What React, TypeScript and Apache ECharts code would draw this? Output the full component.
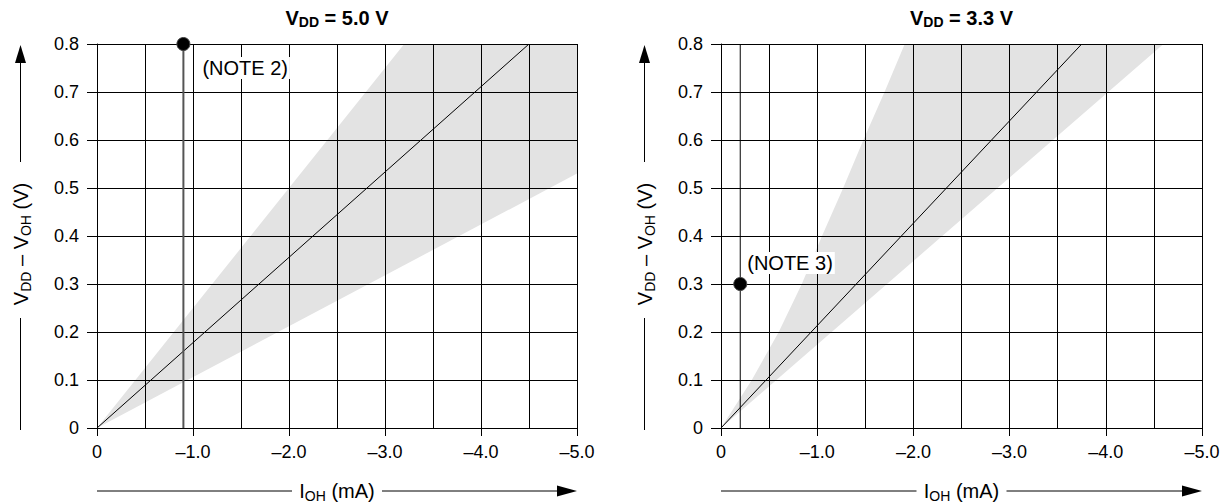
import React, { useEffect, useRef } from "react";
import * as echarts from "echarts";

const FONT = '"Liberation Sans", Arial, Helvetica, sans-serif';

// ---- data ----
const xMin = -5;
const xMax = 0;
const yMin = 0;
const yMax = 0.8;
const titles = ["5.0", "3.3"];
const noteLabels = ["(NOTE 2)", "(NOTE 3)"];

// typical V(DD)-V(OH) vs I(OH) lines
const typicalLeft = [
  [0, 0],
  [-4.5, 0.8],
];
const typicalRight = [
  [0, 0],
  [-3.75, 0.8],
];

// shaded spread region (polygon outline)
const bandLeft = [
  [0, 0],
  [-3.2, 0.8],
  [-5, 0.8],
  [-5, 0.53],
];
const bandRight = [
  [0, 0],
  [-0.32, 0.1],
  [-0.6, 0.2],
  [-0.84, 0.3],
  [-1.05, 0.4],
  [-1.27, 0.5],
  [-1.48, 0.6],
  [-1.7, 0.7],
  [-1.91, 0.8],
  [-4.6, 0.8],
];

// note points and their vertical marker lines
const noteLeft = [-0.9, 0.8];
const noteRight = [-0.2, 0.3];
const noteLineLeft = [
  [-0.9, 0],
  [-0.9, 0.8],
];
const noteLineRight = [
  [-0.2, 0],
  [-0.2, 0.8],
];

// ---- layout ----
const GRIDS = [
  { left: 97, top: 44, width: 480, height: 384 },
  { left: 721, top: 44, width: 481, height: 384 },
];

const fmtX = (v: number) => (v === 0 ? "0" : "\u2013" + Math.abs(v).toFixed(1));
const fmtY = (v: number) => (v === 0 ? "0" : v.toFixed(1));

function makeXAxis(gi: number) {
  return {
    type: "value",
    gridIndex: gi,
    min: xMin,
    max: xMax,
    interval: 1,
    inverse: true,
    position: "bottom",
    z: 3,
    axisLine: { show: true, onZero: false, lineStyle: { color: "#000", width: 1 } },
    axisTick: { show: true, length: 8, lineStyle: { color: "#000", width: 1 } },
    axisLabel: {
      formatter: fmtX,
      color: "#000",
      fontSize: 18,
      fontFamily: FONT,
      margin: 15,
    },
    splitLine: { show: true, showMinLine: true, showMaxLine: true, lineStyle: { color: "#000", width: 1 } },
    minorTick: { show: false, splitNumber: 2 },
    minorSplitLine: { show: true, lineStyle: { color: "#000", width: 1 } },
  };
}

function makeYAxis(gi: number) {
  return {
    type: "value",
    gridIndex: gi,
    min: yMin,
    max: yMax,
    interval: 0.1,
    z: 3,
    axisLine: { show: true, onZero: false, lineStyle: { color: "#000", width: 1 } },
    axisTick: { show: true, length: 10, lineStyle: { color: "#000", width: 1 } },
    axisLabel: {
      formatter: fmtY,
      color: "#000",
      fontSize: 18,
      fontFamily: FONT,
      margin: 18,
    },
    splitLine: { show: true, showMinLine: true, showMaxLine: true, lineStyle: { color: "#000", width: 1 } },
  };
}

function bandSeries(gi: number, band: number[][]) {
  return {
    type: "custom",
    xAxisIndex: gi,
    yAxisIndex: gi,
    z: 1,
    silent: true,
    data: [band[0]],
    renderItem: (_params: any, api: any) => ({
      type: "polygon",
      shape: { points: band.map((p) => api.coord(p)) },
      style: { fill: "#e3e3e3" },
    }),
  };
}

function lineSeries(gi: number, data: number[][], color: string, width: number) {
  return {
    type: "line",
    xAxisIndex: gi,
    yAxisIndex: gi,
    z: 4,
    data,
    symbol: "none",
    silent: true,
    lineStyle: { color, width, opacity: 1 },
  };
}

function noteSeries(gi: number, pt: number[], text: string, offset: number[], distance: number) {
  return {
    type: "scatter",
    xAxisIndex: gi,
    yAxisIndex: gi,
    z: 10,
    data: [pt],
    symbol: "circle",
    symbolSize: 13,
    silent: true,
    itemStyle: { color: "#000", borderColor: "#444", borderWidth: 1, opacity: 1 },
    label: {
      show: true,
      formatter: text,
      position: "right",
      distance,
      offset,
      color: "#000",
      opacity: 1,
      fontSize: 20,
      fontFamily: FONT,
      backgroundColor: "#fff",
      padding: [1, 2],
    },
  };
}

const nameRich = {
  n: { fontSize: 20, fontFamily: FONT, fill: "#000", lineHeight: 24 },
  s: { fontSize: 14, fontFamily: FONT, fill: "#000", lineHeight: 12, verticalAlign: "bottom" },
};
const titleRich = {
  n: { fontSize: 20, fontWeight: "bold", fontFamily: FONT, fill: "#000", lineHeight: 22 },
  s: { fontSize: 14, fontWeight: "bold", fontFamily: FONT, fill: "#000", lineHeight: 12, verticalAlign: "bottom" },
};

function decorations(gi: number) {
  const g = GRIDS[gi];
  const cx = g.left + g.width / 2;
  const right = g.left + g.width;
  const bottom = g.top + g.height;
  const ax = gi === 0 ? 20.5 : 644.5;
  const yc = 244;
  const els: any[] = [];
  // title
  els.push({
    type: "text",
    x: cx,
    y: 18,
    style: {
      text: `{n|V}{s|DD}{n| = ${titles[gi]} V}`,
      rich: titleRich,
      textAlign: "center",
      textVerticalAlign: "middle",
    },
  });
  // y-axis name, rotated
  els.push({
    type: "text",
    x: ax,
    y: yc,
    rotation: Math.PI / 2,
    style: {
      text: "{n|V}{s|DD}{n| \u2013 V}{s|OH}{n| (V)}",
      rich: nameRich,
      textAlign: "center",
      textVerticalAlign: "middle",
    },
  });
  els.push({ type: "line", shape: { x1: ax, y1: 62, x2: ax, y2: 162 }, style: { stroke: "#000", lineWidth: 1 } });
  els.push({ type: "line", shape: { x1: ax, y1: 318, x2: ax, y2: bottom + 2 }, style: { stroke: "#000", lineWidth: 1 } });
  els.push({
    type: "polygon",
    shape: { points: [[ax, g.top + 1], [ax - 5.5, g.top + 19], [ax + 5.5, g.top + 19]] },
    style: { fill: "#000" },
  });
  // x-axis name with arrow
  const ny = 491;
  els.push({
    type: "text",
    x: cx,
    y: ny,
    style: {
      text: "{n|I}{s|OH}{n| (mA)}",
      rich: nameRich,
      textAlign: "center",
      textVerticalAlign: "middle",
    },
  });
  els.push({ type: "line", shape: { x1: g.left, y1: ny, x2: cx - 45, y2: ny }, style: { stroke: "#000", lineWidth: 1 } });
  els.push({ type: "line", shape: { x1: cx + 45, y1: ny, x2: right - 18, y2: ny }, style: { stroke: "#000", lineWidth: 1 } });
  els.push({
    type: "polygon",
    shape: { points: [[right, ny], [right - 20, ny - 5.5], [right - 20, ny + 5.5]] },
    style: { fill: "#000" },
  });
  return els;
}

export default function App() {
  const ref = useRef<HTMLDivElement>(null);
  useEffect(() => {
    if (!ref.current) return;
    const chart = echarts.init(ref.current, undefined, { renderer: "svg" });
    chart.setOption({
      animation: false,
      backgroundColor: "#fff",
      grid: GRIDS.map((g) => ({ ...g, containLabel: false })),
      xAxis: [makeXAxis(0), makeXAxis(1)],
      yAxis: [makeYAxis(0), makeYAxis(1)],
      series: [
        bandSeries(0, bandLeft),
        bandSeries(1, bandRight),
        lineSeries(0, typicalLeft, "#000", 1),
        lineSeries(1, typicalRight, "#000", 1),
        lineSeries(0, noteLineLeft, "#555", 2),
        lineSeries(1, noteLineRight, "#000", 1),
        noteSeries(0, noteLeft, noteLabels[0], [0, 24], 10),
        noteSeries(1, noteRight, noteLabels[1], [-2, -21], 0),
      ],
      graphic: [...decorations(0), ...decorations(1)],
    });
    return () => chart.dispose();
  }, []);
  return (
    <div
      ref={ref}
      style={{ position: "absolute", left: 0, top: 0, width: 1231, height: 504 }}
    />
  );
}
